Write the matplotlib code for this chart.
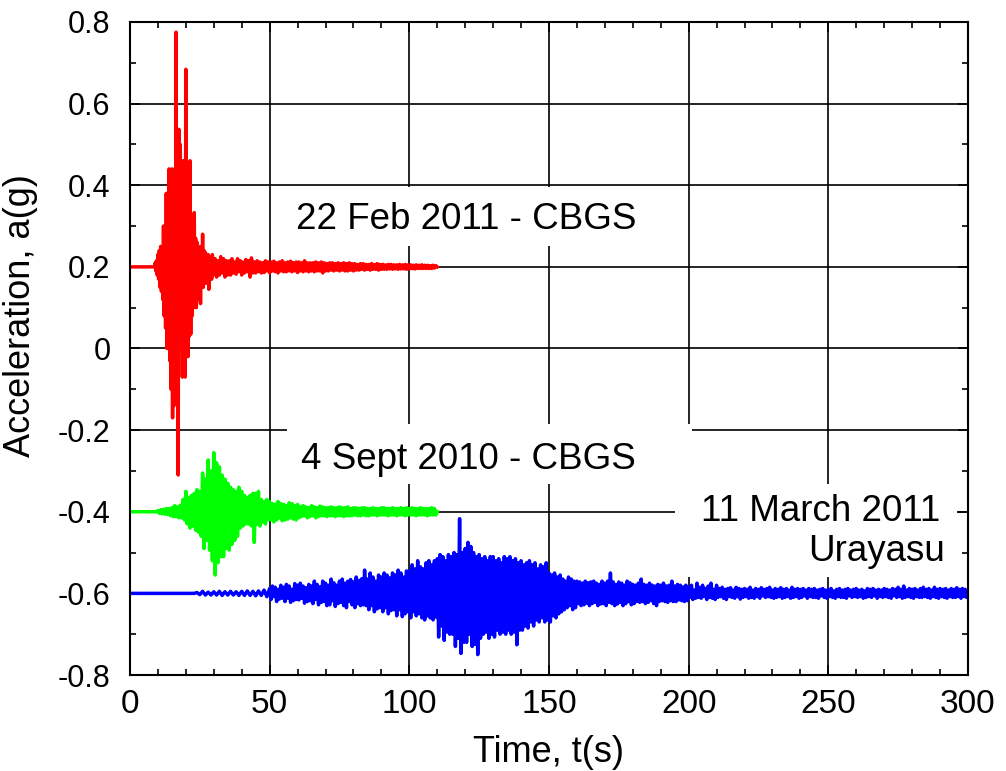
import numpy as np
import matplotlib
matplotlib.use("Agg")
import matplotlib.pyplot as plt
from matplotlib.patches import Rectangle

plt.rcParams['font.family'] = ['Liberation Sans', 'DejaVu Sans']

# ---------------- data (accelerations in g) -------------
offsets = {"red": 0.2, "green": -0.4, "blue": -0.6}

# 22 Feb 2011 - CBGS
red_quiet_t = [0.0, 8.75]
red_quiet_a = [0.0, 0.0]
red_burst_start, red_burst_step = 9.0, 0.25
red_burst_a = [
    0.01, -0.01, 0.015, -0.02,
    0.03, -0.03, 0.04, -0.05,
    0.05, -0.06, 0.04, -0.08,
    0.10, -0.12, 0.08, -0.15,
    0.18, -0.20, 0.12, -0.18,
    0.24, -0.23, 0.20, -0.30,
    0.24, -0.37, 0.22, -0.34,
    0.24, -0.30, 0.575, -0.25,
    0.30, -0.51, 0.337, -0.20,
    0.30, -0.15, 0.20, -0.27,
    0.26, -0.20, 0.22, -0.27,
    0.484, -0.18, 0.20, -0.22,
    0.15, -0.17, 0.26, -0.165,
    0.12, -0.12, 0.10, -0.10,
    0.133, -0.08, 0.07, -0.10,
    0.06, -0.08, 0.05, -0.07,
    0.04, -0.09, 0.05, -0.05,
    0.08, -0.05, 0.04, -0.04,
    0.035, -0.04, 0.03, -0.035,
    0.03, -0.055, 0.025, -0.03,
    0.025, -0.03, 0.03, -0.02,
    0.02,
]
red_tail_start, red_tail_step = 30.5, 0.5
red_tail_a = [
    0.02, -0.025, 0.015, -0.02, 0.025, -0.015, 0.02, -0.025, 0.015, -0.02,
    0.015, -0.02, 0.02, -0.015, 0.012, -0.018, 0.02, -0.012, 0.015, -0.02,
    0.012, -0.015, 0.018, -0.012, 0.015, -0.025, 0.022, -0.015, 0.012, -0.015,
    0.015, -0.012, 0.012, -0.015, 0.01, -0.014, 0.015, -0.01, 0.012, -0.015,
    0.012, -0.01, 0.014, -0.012, 0.01, -0.015, 0.012, -0.01, 0.015, -0.012,
    0.01, -0.012, 0.012, -0.01, 0.014, -0.012, 0.01, -0.01, 0.012, -0.014,
    0.012, -0.01, 0.01, -0.012, 0.015, -0.01, 0.01, -0.012, 0.01, -0.01,
    0.01, -0.012, 0.012, -0.01, 0.01, -0.01, 0.012, -0.015, 0.01, -0.01,
    0.008, -0.01, 0.01, -0.008, 0.01, -0.01, 0.008, -0.008, 0.01, -0.01,
    0.008, -0.008, 0.01, -0.01, 0.008, -0.01, 0.01, -0.008, 0.008, -0.01,
    0.008, -0.008, 0.006, -0.008, 0.008, -0.006, 0.008, -0.008, 0.006, -0.006,
    0.006, -0.008, 0.008, -0.006, 0.006, -0.006, 0.008, -0.008, 0.006, -0.006,
    0.006, -0.006, 0.005, -0.006, 0.006, -0.005, 0.006, -0.006, 0.005, -0.005,
    0.005, -0.006, 0.006, -0.005, 0.005, -0.005, 0.006, -0.006, 0.005, -0.005,
    0.005, -0.004, 0.004, -0.005, 0.005, -0.004, 0.004, -0.004, 0.005, -0.004,
    0.004, -0.004, 0.004, -0.004, 0.003, -0.004, 0.004, -0.003, 0.003, 0.0,
]

# 4 Sept 2010 - CBGS
green_quiet_t = [0.0, 9.5]
green_quiet_a = [0.0, 0.0]
green_burst_start, green_burst_step = 10.0, 0.5
green_burst_a = [
    0.003, -0.004, 0.005, -0.005, 0.006, -0.006, 0.008, -0.007, 0.008, -0.01,
    0.01, -0.012, 0.015, -0.012, 0.012, -0.015, 0.016, -0.015, 0.03, -0.02,
    0.05, -0.03, 0.035, -0.04, 0.04, -0.035, 0.045, -0.045, 0.054, -0.05,
    0.05, -0.06, 0.095, -0.09, 0.08, -0.07, 0.127, -0.094, 0.10, -0.12,
    0.145, -0.155, 0.12, -0.125, 0.11, -0.11, 0.09, -0.11, 0.08, -0.09,
    0.07, -0.094, 0.06, -0.08, 0.054, -0.07, 0.05, -0.06, 0.06, -0.04,
    0.05, -0.035, 0.04, -0.03, 0.035, -0.03, 0.04, -0.035, 0.045, -0.075,
    0.045, -0.03, 0.05, -0.035, 0.03, -0.025, 0.025, -0.03, 0.03, -0.02,
    0.025,
]
green_tail_start, green_tail_step = 50.5, 0.5
green_tail_a = [
    -0.02, 0.02, -0.025, 0.018, -0.02, 0.025, -0.015, 0.02, -0.022, 0.018,
    -0.02, 0.015, -0.018, 0.022, -0.015, 0.02, -0.018, 0.015, -0.02, 0.018,
    -0.015, 0.012, -0.012, 0.015, -0.01, 0.012, -0.015, 0.01, -0.012, 0.015,
    -0.01, 0.012, -0.015, 0.01, -0.012, 0.014, -0.01, 0.012, -0.01, 0.01,
    -0.012, 0.01, -0.01, 0.012, -0.01, 0.01, -0.012, 0.01, -0.01, 0.012,
    -0.01, 0.01, -0.012, 0.01, -0.01, 0.012, -0.01, 0.008, -0.01, 0.01,
    -0.008, 0.01, -0.01, 0.008, -0.01, 0.01, -0.008, 0.01, -0.01, 0.008,
    -0.01, 0.008, -0.008, 0.01, -0.008, 0.008, -0.01, 0.008, -0.008, 0.01,
    -0.008, 0.01, -0.008, 0.008, -0.01, 0.008, -0.008, 0.01, -0.008, 0.008,
    -0.01, 0.008, -0.008, 0.01, -0.008, 0.008, -0.01, 0.01, -0.008, 0.008,
    -0.008, 0.01, -0.008, 0.008, -0.01, 0.008, -0.008, 0.01, -0.008, 0.008,
    -0.008, 0.008, -0.01, 0.008, -0.008, 0.01, -0.008, 0.008, -0.008, 0.0,
]

# 11 March 2011 - Urayasu
blue_quiet_t = [0.0, 23.0]
blue_quiet_a = [0.0, 0.0]
blue_early_start, blue_early_step = 24.0, 1.0
blue_early_a = [
    0.002, -0.003, 0.005, -0.004, 0.003, -0.004,
    0.004, -0.004, 0.005, -0.005, 0.004, -0.004, 0.005, -0.004, 0.004, -0.005,
    0.005, -0.005, 0.006, -0.005, 0.005, -0.006, 0.006, -0.005, 0.008, -0.008,
]
blue_main_start, blue_main_step = 50.0, 0.5
blue_main_a = [
    0.012, -0.015, 0.018, -0.008, 0.015, -0.02, 0.01, -0.014, 0.02, -0.012,
    0.015, -0.02, 0.022, -0.012, 0.018, -0.022, 0.01, -0.018, 0.024, -0.015,
    0.02, -0.016, 0.025, -0.012, 0.018, -0.024, 0.014, -0.02, 0.022, -0.018,
    0.018, -0.025, 0.03, -0.015, 0.022, -0.028, 0.016, -0.022, 0.03, -0.02,
    0.025, -0.03, 0.02, -0.028, 0.035, -0.018, 0.026, -0.032, 0.02, -0.025,
    0.03, -0.022, 0.035, -0.03, 0.025, -0.035, 0.03, -0.02, 0.034, -0.028,
    0.028, -0.035, 0.04, -0.025, 0.032, -0.03, 0.036, -0.028, 0.057, -0.03,
    0.035, -0.04, 0.05, -0.03, 0.04, -0.045, 0.03, -0.038, 0.045, -0.035,
    0.04, -0.045, 0.05, -0.035, 0.045, -0.05, 0.038, -0.042, 0.05, -0.04,
    0.045, -0.055, 0.057, -0.04, 0.05, -0.057, 0.04, -0.05, 0.055, -0.045,
    0.055, -0.06, 0.07, -0.045, 0.06, -0.055, 0.08, -0.05, 0.065, -0.06,
    0.06, -0.065, 0.075, -0.055, 0.08, -0.06, 0.07, -0.065, 0.08, -0.058,
    0.085, -0.107, 0.095, -0.08, 0.09, -0.115, 0.08, -0.095, 0.095, -0.10,
    0.09, -0.10, 0.10, -0.13, 0.095, -0.11, 0.183, -0.147, 0.10, -0.12,
    0.11, -0.12, 0.125, -0.10, 0.115, -0.13, 0.10, -0.125, 0.09, -0.15,
    0.095, -0.11, 0.085, -0.10, 0.09, -0.095, 0.08, -0.11, 0.09, -0.10,
    0.09, -0.107, 0.08, -0.09, 0.085, -0.10, 0.075, -0.095, 0.09, -0.10,
    0.085, -0.09, 0.09, -0.10, 0.08, -0.095, 0.085, -0.126, 0.075, -0.09,
    0.08, -0.09, 0.07, -0.08, 0.075, -0.085, 0.08, -0.07, 0.07, -0.08,
    0.075, -0.065, 0.06, -0.07, 0.07, -0.06, 0.065, -0.07, 0.075, -0.065,
    0.05, -0.07, 0.045, -0.055, 0.05, -0.06, 0.04, -0.05, 0.045, -0.045,
    0.035, -0.04, 0.03, -0.035, 0.04, -0.03, 0.035, -0.04, 0.03, -0.035,
    0.03, -0.025, 0.028, -0.03, 0.025, -0.028, 0.03, -0.024, 0.026, -0.03,
    0.028, -0.025, 0.03, -0.022, 0.025, -0.03, 0.022, -0.026, 0.03, -0.025,
    0.025, -0.03, 0.03, -0.022, 0.05, -0.025, 0.028, -0.03, 0.022, -0.026,
    0.028, -0.022, 0.025, -0.03, 0.02, -0.025, 0.03, -0.02, 0.026, -0.028,
    0.022, -0.025, 0.02, -0.02, 0.025, -0.022, 0.035, -0.02, 0.022, -0.025,
    0.02, -0.022, 0.025, -0.018, 0.02, -0.025, 0.018, -0.03, 0.022, -0.02,
    0.02, -0.018, 0.025, -0.02, 0.018, -0.022, 0.02, -0.018, 0.03, -0.02,
    0.018, -0.02, 0.022, -0.016, 0.02, -0.018, 0.016, -0.02, 0.02, -0.018,
]
blue_late_start, blue_late_step = 200.0, 0.5
blue_late_a = [
    0.015, -0.01, 0.02, -0.015, 0.008, -0.012, 0.025, -0.01, 0.015, -0.012,
    0.02, -0.008, 0.012, -0.015, 0.018, -0.01, 0.025, -0.012, 0.01, -0.015,
    0.02, -0.01, 0.012, -0.008, 0.015, -0.012, 0.01, -0.015, 0.012, -0.008,
    0.014, -0.01, 0.008, -0.012, 0.015, -0.008, 0.012, -0.014, 0.01, -0.01,
    0.012, -0.008, 0.01, -0.012, 0.015, -0.01, 0.008, -0.012, 0.012, -0.008,
    0.01, -0.012, 0.014, -0.006, 0.01, -0.01, 0.012, -0.008, 0.015, -0.01,
    0.008, -0.012, 0.012, -0.01, 0.01, -0.008, 0.014, -0.012, 0.01, -0.01,
    0.012, -0.008, 0.008, -0.012, 0.015, -0.01, 0.01, -0.008, 0.012, -0.012,
    0.01, -0.01, 0.012, -0.006, 0.008, -0.012, 0.012, -0.008, 0.01, -0.01,
    0.012, -0.01, 0.008, -0.012, 0.01, -0.006, 0.012, -0.01, 0.008, -0.012,
    0.01, -0.008, 0.012, -0.01, 0.006, -0.012, 0.01, -0.008, 0.012, -0.01,
    0.008, -0.01, 0.01, -0.012, 0.012, -0.006, 0.008, -0.01, 0.01, -0.008,
    0.012, -0.01, 0.008, -0.008, 0.01, -0.012, 0.006, -0.01, 0.012, -0.008,
    0.01, -0.01, 0.012, -0.006, 0.008, -0.012, 0.01, -0.008, 0.008, -0.01,
    0.012, -0.008, 0.01, -0.01, 0.008, -0.012, 0.012, -0.006, 0.01, -0.01,
    0.015, -0.008, 0.01, -0.012, 0.018, -0.01, 0.008, -0.008, 0.012, -0.01,
    0.01, -0.012, 0.012, -0.008, 0.008, -0.01, 0.012, -0.01, 0.015, -0.008,
    0.01, -0.01, 0.012, -0.012, 0.008, -0.008, 0.015, -0.01, 0.01, -0.012,
    0.012, -0.008, 0.01, -0.01, 0.012, -0.012, 0.008, -0.008, 0.012, -0.01,
    0.01, -0.01, 0.014, -0.008, 0.01, -0.012, 0.012, -0.008, 0.01, -0.01,
    0.005,
]

labels = ["22 Feb 2011 - CBGS", "4 Sept 2010 - CBGS", "11 March 2011", "Urayasu"]
xticks = [0, 50, 100, 150, 200, 250, 300]
yticks = [-0.8, -0.6, -0.4, -0.2, 0.0, 0.2, 0.4, 0.6, 0.8]
ytick_labels = ["-0.8", "-0.6", "-0.4", "-0.2", "0", "0.2", "0.4", "0.6", "0.8"]


def build(quiet_t, quiet_a, segs):
    t = list(quiet_t)
    a = list(quiet_a)
    for start, step, vals in segs:
        t += list(start + step * np.arange(len(vals)))
        a += list(vals)
    return np.array(t), np.array(a)


red_t, red_a = build(red_quiet_t, red_quiet_a,
                     [(red_burst_start, red_burst_step, red_burst_a),
                      (red_tail_start, red_tail_step, red_tail_a)])
green_t, green_a = build(green_quiet_t, green_quiet_a,
                         [(green_burst_start, green_burst_step, green_burst_a),
                          (green_tail_start, green_tail_step, green_tail_a)])
blue_t, blue_a = build(blue_quiet_t, blue_quiet_a,
                       [(blue_early_start, blue_early_step, blue_early_a),
                        (blue_main_start, blue_main_step, blue_main_a),
                        (blue_late_start, blue_late_step, blue_late_a)])

# ---------------- figure -------------------------------------------------------
fig = plt.figure(figsize=(10.06, 7.71), dpi=100)
ax = fig.add_axes([0.1292, 0.1245, 0.8330, 0.8470])

lw = 2.5
ax.plot(blue_t, blue_a + offsets["blue"], color="#0000ff", lw=lw, zorder=2)
ax.plot(green_t, green_a + offsets["green"], color="#00ff00", lw=lw, zorder=2)
ax.plot(red_t, red_a + offsets["red"], color="#ff0000", lw=lw, zorder=2)

ax.set_xlim(0, 300)
ax.set_ylim(-0.8, 0.8)
ax.set_xticks(xticks)
ax.set_xticks(np.arange(0, 301, 10), minor=True)
ax.set_yticks(yticks)
ax.set_yticklabels(ytick_labels)
ax.set_yticks(np.arange(-0.8, 0.81, 0.1), minor=True)

ax.set_axisbelow(True)
ax.grid(True, which="major", color="black", lw=1.2)
ax.tick_params(which="both", direction="in", top=True, right=True, width=1.2, color="black")
ax.tick_params(which="major", length=7)
ax.tick_params(which="minor", length=4)
ax.tick_params(axis="y", labelsize=22, pad=14)
ax.tick_params(axis="x", labelsize=24, pad=10)
for s in ax.spines.values():
    s.set_linewidth(1.5)

ax.set_xlabel("Time, t(s)", fontsize=26)
ax.xaxis.set_label_coords(0.5, -0.092)
ax.set_ylabel("Acceleration, a(g)", fontsize=26)
ax.yaxis.set_label_coords(-0.110, 0.55)

# white boxes behind annotations (hide grid lines like the original)
boxes = [
    (54.0, 0.250, 136.0, 0.145),
    (56.2, -0.333, 145.0, 0.147),
    (195.0, -0.559, 101.0, 0.226),
]
for x0, y0, w, h in boxes:
    ax.add_patch(Rectangle((x0, y0), w, h, facecolor="white", edgecolor="none", zorder=3))

ax.text(120.4, 0.316, labels[0], fontsize=26.5, ha="center", va="center", zorder=4)
ax.text(121.2, -0.272, labels[1], fontsize=26.5, ha="center", va="center", zorder=4)
ax.text(290.0, -0.400, labels[2], fontsize=26.5, ha="right", va="center", zorder=4)
ax.text(291.8, -0.497, labels[3], fontsize=26.5, ha="right", va="center", zorder=4)

fig.savefig("out.png", dpi=100)
